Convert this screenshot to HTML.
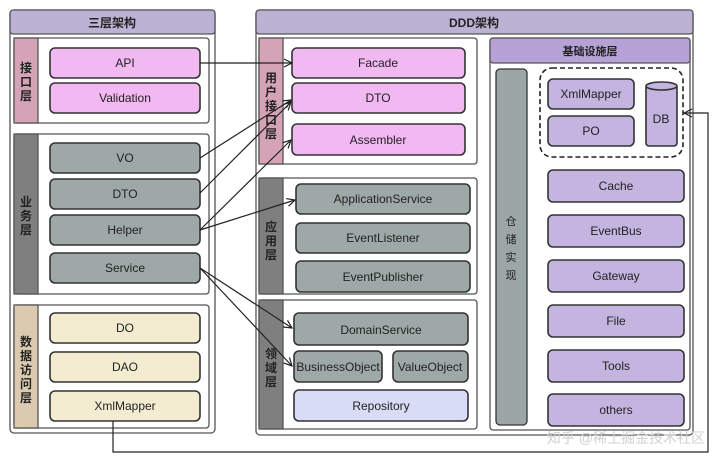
<!DOCTYPE html>
<html><head><meta charset="utf-8"><style>
html,body{margin:0;padding:0;background:#fff;}
svg text{font-family:"Liberation Sans","Noto Sans CJK SC",sans-serif;fill:#222;}
</style></head><body>
<svg width="720" height="464" viewBox="0 0 720 464" xmlns="http://www.w3.org/2000/svg">
<defs>
<marker id="a" markerWidth="10" markerHeight="10" refX="9" refY="5" orient="auto" markerUnits="userSpaceOnUse"><path d="M1,1 L9,5 L1,9" fill="none" stroke="#222" stroke-width="1.2"/></marker>
</defs>
<g stroke="#555" stroke-width="1.3">
<rect x="10" y="10" width="205" height="423" rx="4" fill="#fff"/>
<rect x="10" y="10" width="205" height="24" rx="3" fill="#bcb3d4"/>
<rect x="256" y="10" width="437" height="425" rx="4" fill="#fff"/>
<rect x="256" y="10" width="437" height="24" rx="3" fill="#bcb3d4"/>
<rect x="14" y="38" width="195" height="85" rx="3" fill="#fff"/>
<rect x="14" y="38" width="24" height="85" fill="#d4a3b6"/>
<rect x="14" y="134" width="195" height="160" rx="3" fill="#fff"/>
<rect x="14" y="134" width="24" height="160" fill="#7f7f7f"/>
<rect x="14" y="305" width="195" height="123" rx="3" fill="#fff"/>
<rect x="14" y="305" width="24" height="123" fill="#dccab0"/>
<rect x="259" y="38" width="218" height="126" rx="3" fill="#fff"/>
<rect x="259" y="38" width="24" height="126" fill="#d4a3b6"/>
<rect x="259" y="178" width="218" height="116" rx="3" fill="#fff"/>
<rect x="259" y="178" width="24" height="116" fill="#7f7f7f"/>
<rect x="259" y="300" width="218" height="129" rx="3" fill="#fff"/>
<rect x="259" y="300" width="24" height="129" fill="#7f7f7f"/>
<rect x="490" y="38" width="200" height="392" rx="3" fill="#fff"/>
<rect x="490" y="38" width="200" height="25" rx="3" fill="#b6a2d6"/>
<rect x="496" y="69" width="31" height="356" rx="4" fill="#9ca7a5" stroke="#333"/>
<rect x="540" y="68" width="143" height="89" rx="12" fill="none" stroke="#222" stroke-dasharray="5,3" stroke-width="1.6"/>
</g>
<g stroke="#333" stroke-width="1.6">
<g fill="#f1b8f1">
<rect x="50" y="48" width="150" height="30" rx="5"/>
<rect x="50" y="83" width="150" height="30" rx="5"/>
<rect x="292" y="48" width="173" height="30" rx="5"/>
<rect x="292" y="83" width="173" height="30" rx="5"/>
<rect x="292" y="124" width="173" height="31" rx="5"/>
</g>
<g fill="#9ea8a6">
<rect x="50" y="143" width="150" height="30" rx="5"/>
<rect x="50" y="179" width="150" height="30" rx="5"/>
<rect x="50" y="215" width="150" height="30" rx="5"/>
<rect x="50" y="253" width="150" height="30" rx="5"/>
<rect x="296" y="184" width="174" height="30" rx="5"/>
<rect x="296" y="223" width="174" height="30" rx="5"/>
<rect x="296" y="261" width="174" height="31" rx="5"/>
<rect x="294" y="313" width="174" height="32" rx="5"/>
<rect x="294" y="351" width="88" height="31" rx="5"/>
<rect x="393" y="351" width="75" height="31" rx="5"/>
</g>
<g fill="#f3ecd1">
<rect x="50" y="313" width="150" height="30" rx="5"/>
<rect x="50" y="352" width="150" height="30" rx="5"/>
<rect x="50" y="391" width="150" height="30" rx="5"/>
</g>
<rect x="294" y="390" width="174" height="31" rx="5" fill="#d9dcf6"/>
<g fill="#c4b4e0">
<rect x="548" y="79" width="86" height="30" rx="5"/>
<rect x="548" y="116" width="86" height="30" rx="5"/>
<rect x="646" y="84" width="31" height="62" rx="3"/>
<ellipse cx="661.5" cy="86" rx="15.5" ry="4"/>
<rect x="548" y="170" width="136" height="32" rx="5"/>
<rect x="548" y="215" width="136" height="32" rx="5"/>
<rect x="548" y="260" width="136" height="32" rx="5"/>
<rect x="548" y="305" width="136" height="32" rx="5"/>
<rect x="548" y="350" width="136" height="32" rx="5"/>
<rect x="548" y="394" width="136" height="32" rx="5"/>
</g>
</g>
<g stroke="#222" stroke-width="1.2" fill="none" marker-end="url(#a)">
<path d="M200,63 L292,63"/>
<path d="M200,158 L291,100"/>
<path d="M200,193 L291,102"/>
<path d="M200,230 L291,140"/>
<path d="M200,230 L295,200"/>
<path d="M200,268 L292,328"/>
<path d="M200,268 L292,366"/>
<path d="M113,421 L113,452 L708,452 L708,113 L684,113"/>
</g>
<g font-size="12" text-anchor="middle">
<text x="112" y="27" font-weight="bold" font-size="12">三层架构</text>
<text x="474" y="27" font-weight="bold" font-size="12">DDD架构</text>
<text x="590" y="55" font-weight="bold" font-size="11">基础设施层</text>
<text x="125" y="67">API</text>
<text x="125" y="102">Validation</text>
<text x="125" y="162">VO</text>
<text x="125" y="198">DTO</text>
<text x="125" y="234">Helper</text>
<text x="125" y="272">Service</text>
<text x="125" y="332">DO</text>
<text x="125" y="371">DAO</text>
<text x="125" y="410">XmlMapper</text>
<text x="378" y="67">Facade</text>
<text x="378" y="102">DTO</text>
<text x="378" y="144">Assembler</text>
<text x="383" y="203">ApplicationService</text>
<text x="383" y="242">EventListener</text>
<text x="383" y="281">EventPublisher</text>
<text x="381" y="334">DomainService</text>
<text x="338" y="371">BusinessObject</text>
<text x="430" y="371">ValueObject</text>
<text x="381" y="410">Repository</text>
<text x="591" y="98">XmlMapper</text>
<text x="591" y="135">PO</text>
<text x="661" y="123">DB</text>
<text x="616" y="190">Cache</text>
<text x="616" y="235">EventBus</text>
<text x="616" y="280">Gateway</text>
<text x="616" y="325">File</text>
<text x="616" y="370">Tools</text>
<text x="616" y="414">others</text>
</g>
<g font-size="12" font-weight="bold" text-anchor="middle">
<text x="26" y="72">接</text><text x="26" y="86">口</text><text x="26" y="100">层</text>
<text x="26" y="206">业</text><text x="26" y="220">务</text><text x="26" y="234">层</text>
<text x="26" y="346">数</text><text x="26" y="360">据</text><text x="26" y="374">访</text><text x="26" y="388">问</text><text x="26" y="402">层</text>
<text x="271" y="82">用</text><text x="271" y="96">户</text><text x="271" y="110">接</text><text x="271" y="124">口</text><text x="271" y="138">层</text>
<text x="271" y="231">应</text><text x="271" y="245">用</text><text x="271" y="259">层</text>
<text x="271" y="358">领</text><text x="271" y="372">域</text><text x="271" y="386">层</text>
</g>
<g font-size="11" text-anchor="middle">
<text x="511" y="225">仓</text><text x="511" y="243">储</text><text x="511" y="261">实</text><text x="511" y="279">现</text>
</g>
<text x="705" y="443" font-size="14" style="fill:#d0d0d0" text-anchor="end">知乎 @稀土掘金技术社区</text>
</svg>
</body></html>
